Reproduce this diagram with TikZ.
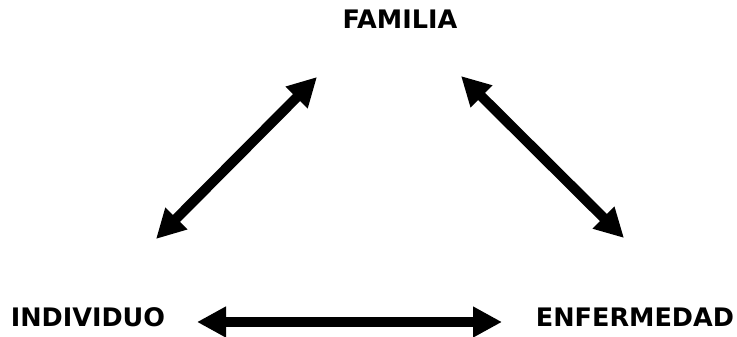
\documentclass[tikz,border=0pt]{standalone}
\usepackage{fontspec}
\setmainfont{DejaVu Sans}
\usepackage{tikz}
\usetikzlibrary{arrows.meta}

\begin{document}
\begin{tikzpicture}[
  x=1pt, y=1pt,
  term/.style={font=\bfseries\fontsize{25.5}{30}\selectfont, anchor=base, inner sep=0pt},
  dbl/.style={{Triangle[length=29pt, width=29pt]}-{Triangle[length=29pt, width=29pt]}, line width=10pt}
]
\useasboundingbox (0,0) rectangle (737,337);

% Terms
\node[term] (familia)    at (400,308) {FAMILIA};
\node[term] (individuo)  at (88,10)   {INDIVIDUO};
\node[term] (enfermedad) at (635,10)  {ENFERMEDAD};

% Arrow ends
\coordinate (fi) at (156,98);
\coordinate (if) at (317,260);
\coordinate (fe) at (461,261);
\coordinate (ef) at (624,99);
\coordinate (ie) at (197,15);
\coordinate (ei) at (502,15);

% Relations
\draw[dbl] (fi) -- (if);
\draw[dbl] (fe) -- (ef);
\draw[dbl] (ie) -- (ei);
\end{tikzpicture}
\end{document}
